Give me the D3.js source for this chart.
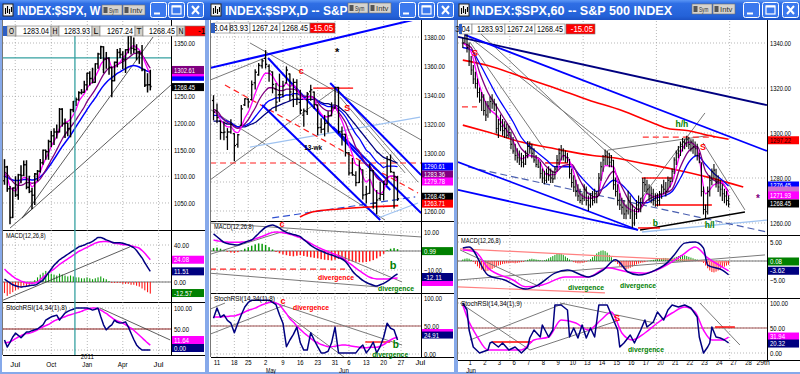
<!DOCTYPE html>
<html>
<head>
<meta charset="utf-8">
<title>SPX weekly / daily / 60 min</title>
<script src="https://cdn.jsdelivr.net/npm/d3@7"></script>
<style>
  body { margin: 0; background: #fff; }
  svg { display: block; font-family: "Liberation Sans", Arial, sans-serif; }
</style>
</head>
<body>
<svg id="chart" width="800" height="374"></svg>
<script>
// ---------- last bar (header strip) ----------
const lastBar = ["1283.04", "1283.93", "1267.24", "1268.45"];
const lastChange = "-15.05";

// ---------- weekly window (index 0 = wk of Jun 18 2010) ----------
const wkOpen = [1091.6,1117.5,1076.8,1022.6,1078.0,1064.9,1102.7,1101.6,1121.6,1079.3,1071.7,1064.6,1104.5,1109.6,1125.6,1148.7,1146.2,1165.2,1176.2,1183.1,1183.3,1225.9,1199.2,1199.7,1189.4,1224.7,1240.4,1243.9,1256.8,1257.6,1271.5,1293.2,1283.4,1276.3,1310.9,1329.2,1343.0,1319.9,1321.2,1304.3,1279.2,1313.8,1332.4,1328.2,1319.7,1337.4,1363.6,1340.2,1337.8,1333.3,1331.1,1300.2,1271.0,1271.5];
const wkHigh = [1131.2,1118.7,1081.0,1078.2,1099.1,1103.7,1120.0,1128.8,1129.2,1100.1,1077.6,1105.1,1110.9,1131.5,1148.9,1148.9,1167.7,1184.4,1189.4,1196.1,1227.1,1226.8,1207.4,1199.7,1225.6,1240.4,1246.7,1258.6,1262.6,1278.2,1293.2,1296.1,1302.7,1311.0,1330.8,1344.1,1343.0,1332.3,1322.3,1304.3,1314.2,1337.9,1339.5,1333.8,1337.5,1364.6,1370.6,1359.4,1346.8,1334.6,1345.2,1300.3,1292.5,1298.6];
const wkLow = [1085.0,1071.8,1010.9,1022.6,1062.2,1056.9,1088.0,1101.6,1076.6,1069.4,1039.7,1047.1,1091.5,1107.8,1122.8,1131.9,1131.9,1155.7,1159.7,1171.7,1183.3,1194.1,1173.0,1176.0,1174.0,1221.0,1232.9,1242.5,1254.5,1257.6,1262.2,1271.3,1275.1,1276.3,1302.6,1321.1,1294.3,1302.6,1291.5,1249.1,1279.2,1305.3,1322.9,1302.4,1294.7,1331.5,1329.2,1332.0,1318.5,1311.8,1297.9,1268.3,1258.1,1262.0];
const wkClose = [1117.5,1076.8,1022.6,1078.0,1064.9,1102.7,1101.6,1121.6,1079.3,1071.7,1064.6,1104.5,1109.6,1125.6,1148.7,1146.2,1165.2,1176.2,1183.1,1183.3,1225.9,1199.2,1199.7,1189.4,1224.7,1240.4,1243.9,1256.8,1257.6,1271.5,1293.2,1283.4,1276.3,1310.9,1329.2,1343.0,1319.9,1321.2,1304.3,1279.2,1313.8,1332.4,1328.2,1319.7,1337.4,1363.6,1340.2,1337.8,1333.3,1331.1,1300.2,1271.0,1271.5,1268.5];
const wkPink = [1105,1098,1080,1075,1072,1082,1092,1098,1097,1091,1080,1085,1092,1108,1122,1133,1144,1156,1166,1175,1190,1196,1200,1203,1207,1215,1225,1240,1248,1255,1265,1272,1277,1287,1297,1310,1316,1322,1318,1305,1304,1310,1314,1322,1327,1335,1342,1345,1341,1337,1328,1315,1302,1293];
const wkPurple = [1108,1104,1097,1090,1085,1083,1083,1085,1088,1088,1087,1088,1090,1095,1103,1112,1121,1131,1140,1150,1160,1170,1178,1185,1192,1199,1206,1214,1222,1230,1240,1248,1255,1263,1272,1282,1291,1298,1303,1304,1306,1309,1312,1315,1318,1322,1326,1330,1331,1331,1327,1320,1311,1302.61];
const wkBlue = [1100,1098,1095,1093,1092,1092,1093,1094,1094,1094,1093,1094,1096,1099,1104,1110,1117,1124,1132,1140,1148,1156,1163,1170,1177,1185,1193,1201,1209,1217,1225,1233,1240,1247,1255,1263,1270,1276,1281,1285,1289,1293,1296,1299,1302,1305,1307,1308,1307,1305,1302,1299,1297,1296];
const wkMacd = [3,1,-1,-3,-4,-5,-5.5,-5,-4.5,-4,-3.5,-3.3,-2,0,2,6,10,14,18,21,24,26,28,30,32,34,36,38,39,40,41.5,42.5,44,46,48,48,47,45.5,44.5,43,42.5,42.5,42.4,42,41,40,38.5,37,34,30,26,21,16,11.51];
const wkSignal = [14,11,8.5,6,4,2.5,1,0,-1,-1.2,-1.3,-1.2,0,2.5,5,7.5,10,12,14,16.5,19,21,23,25,27,29,31,33,34.5,36,37.5,39,40.5,42,43,43.5,43.8,43.8,43.5,43,42,41.5,41,40.5,40.2,40,39.3,38.5,37.5,36.5,34,31,27.5,24.08];
const wkHist = [-12,-15,-13,-11,-9,-8,-6,-4,-5,-4,-2,2,5,8,10,12,11,9,8,7,9,8,7,6,7,6,5,5,4,4,5,4,3,4,5,6,4,3,1,-1,-1,-1,-1,-2,-2,-2,-3,-3,-4,-5,-7,-9,-11,-12.57];
const wkStoch = [24,7,18,31,40,35,29,36,43,43,46,48,50,55,60,71,75,79,81,83,71,80,88,92,95,97,100,100,100,100,100,98,95,97,100,79,60,48,55,60,71,66,64,65,67,55,40,25,12,5,0,0,0,0];
const wkStochSig = [17,18,19,23,27,31,34,37,39,40,42,45,48,52,55,58,61,65,69,72,75,77,79,82,84,86,88,90,92,95,97,99,100,100,98,95,91,87,82,77,72,69,67,64,60,56,52,47,41,35,29,23,17,11.64];
const wkTickAt = [3.9, 17, 30.1, 43, 56];
const wkTickLabels = ["Jul", "Oct", "Jan", "Apr", "Jul"];
const wkTeal = [25.6, 1322];
const wkTrend = [[6.4,1021.7,54,1361.3],[6.4,1021.7,60.9,1273.1],[2,1002.9,10.4,1040.4]];
const wkMacdTrend = [[-0.5,-19.6,45.6,38]];
const wkStochTrend = [[34.7,100,60.2,24]];

// ---------- daily window (index 0 = Apr 11 2011, -1 = Apr 8) ----------
const dOpen = [1336.2,1329.0,1322.0,1314.0,1311.0,1314.5,1313.3,1306.0,1319.1,1333.2,1337.1,1336.8,1348.4,1353.9,1360.1,1365.2,1359.8,1355.9,1344.2,1340.2,1340.2,1348.3,1354.5,1339.4,1348.7,1334.8,1326.1,1328.5,1342.4,1342.0,1333.1,1317.7,1316.4,1320.6,1325.7,1331.1,1345.2,1314.6,1312.9,1300.3,1286.3,1284.6,1279.6,1288.3,1271.3,1272.2,1287.9,1265.5,1268.6,1271.5,1278.4,1295.5,1286.6,1283.04];
const dHigh = [1339.5,1333.8,1322.0,1321.4,1316.8,1322.9,1313.3,1312.7,1332.7,1337.5,1337.5,1349.6,1357.5,1361.7,1364.6,1370.6,1360.8,1355.9,1348.0,1354.4,1349.4,1359.4,1354.5,1351.1,1350.5,1343.3,1330.4,1341.8,1346.8,1342.0,1333.1,1323.7,1325.9,1328.5,1334.6,1345.2,1345.2,1318.0,1312.9,1300.3,1296.2,1287.0,1294.5,1288.3,1277.0,1292.5,1287.9,1274.1,1279.8,1280.4,1297.6,1298.6,1286.8,1283.93];
const dLow = [1322.9,1321.1,1309.5,1309.2,1302.4,1313.7,1294.7,1304.0,1319.1,1332.8,1331.5,1336.8,1344.2,1353.6,1358.7,1358.6,1349.5,1341.5,1329.2,1335.6,1338.6,1348.3,1336.4,1332.0,1333.4,1327.3,1318.5,1326.6,1336.4,1330.7,1312.6,1313.9,1311.8,1314.4,1325.7,1331.1,1313.7,1305.6,1297.9,1284.9,1284.7,1277.5,1279.6,1268.3,1265.6,1272.2,1261.9,1258.1,1267.4,1267.6,1278.4,1286.8,1262.0,1267.24];
const dClose = [1328.2,1324.5,1314.2,1314.4,1314.5,1319.7,1305.1,1312.6,1330.4,1337.4,1335.3,1347.2,1355.7,1360.5,1363.6,1361.2,1356.6,1347.3,1335.1,1340.2,1346.3,1357.2,1342.1,1348.7,1337.8,1329.5,1329.0,1340.7,1343.6,1333.3,1317.4,1316.3,1320.5,1325.7,1331.1,1345.2,1314.6,1312.9,1300.2,1286.2,1284.9,1279.6,1289.0,1271.0,1271.8,1287.9,1265.4,1267.6,1271.5,1278.4,1295.5,1287.1,1283.5,1268.45];
const dPink = [1329,1327,1323,1320,1318,1318,1315,1314,1318,1324,1328,1334,1341,1347,1352,1355,1355,1353,1349,1346,1346,1348,1346,1347,1344,1340,1337,1338,1339,1337,1331,1327,1325,1325,1327,1333,1327,1322,1315,1306,1299,1292,1291,1284,1280,1282,1276,1273,1272,1274,1282,1284,1284,1279.78];
const dPurple = [1330,1329,1326,1323,1321,1320,1318,1317,1318,1320,1323,1327,1331,1336,1340,1343,1345,1345,1344,1343,1343,1344,1344,1344,1343,1341,1339,1339,1339,1338,1335,1332,1330,1329,1329,1331,1328,1325,1321,1315,1310,1304,1301,1296,1292,1291,1287,1283,1281,1280,1283,1284,1284,1283.36];
const dBlue = [1326,1326,1325,1323,1322,1321,1319,1318,1318,1319,1320,1322,1325,1328,1331,1334,1336,1337,1338,1338,1339,1340,1340,1341,1341,1340,1339,1339,1339,1338,1336,1334,1333,1332,1332,1332,1330,1328,1325,1321,1317,1313,1310,1306,1302,1300,1297,1294,1292,1290,1291,1291,1291,1290.61];
const dNavy = [1322,1322,1322,1321,1320,1320,1319,1318,1318,1318,1319,1320,1321,1323,1325,1327,1329,1331,1332,1333,1334,1335,1336,1337,1337,1337,1337,1337,1337,1337,1336,1335,1334,1334,1333,1333,1332,1330,1328,1325,1322,1319,1316,1313,1310,1307,1304,1301,1299,1297,1296,1295,1294,1293];
const dRed200 = [[23.9,1255.9],[27.4,1259.3],[35.4,1261.4],[44.1,1262.8],[52.2,1263.71]];
const dMacd = [9,7.5,6,4.5,4,3.6,3.3,3.2,3.8,4.5,5.2,5.8,7.5,9.2,11,12.5,13.3,13.7,13,12,10.8,9.8,9.2,8.7,8.2,7.6,6,4.5,3,1.8,0.8,0,-0.8,-1.5,-2.1,-2.8,-3.5,-4.2,-5.5,-7.8,-10.5,-12.5,-14,-15.5,-16.6,-17.4,-18,-18.4,-17.8,-17,-16,-14.7,-13.2,-12.11];
const dSignal = [5.8,5.4,5.1,4.8,4.7,4.6,4.6,4.6,4.7,4.8,5.2,5.8,6.4,7,7.6,8.4,9.2,9.8,10,9.9,9.6,9.3,8.8,8.3,7.6,7,6,5,4,3,2,1.2,0.4,-0.4,-1.1,-1.8,-2.6,-3.6,-4.8,-6.2,-7.6,-9,-10.3,-11.6,-12.8,-13.8,-14.4,-14.7,-14.8,-14.8,-14.7,-14.5,-14.3,-14.2];
const dHist = [1.5,1.8,1.2,0.5,-0.4,-0.8,-1.0,-0.6,0.3,1.2,2.0,2.8,3.5,4.0,3.8,3.2,2.0,0.8,-0.5,-1.2,-1.8,-2.2,-2.6,-2.8,-2.5,-2.2,-2.6,-3.0,-3.3,-3.6,-3.9,-4.3,-4.6,-4.8,-5.0,-4.6,-4.2,-4.4,-4.8,-5.2,-5.5,-5.7,-5.9,-6.0,-5.8,-5.4,-4.8,-3.9,-2.8,-1.5,0.4,1.2,1.5,0.99];
const dStoch = [64,82,66,70,60,55,38,55,70,84,92,96,96,96,96,96,96,92,88,70,55,13,25,35,48,20,7,7,38,25,13,2,2,5,20,48,2,2,2,2,2,2,10,16,2,10,21,2,13,30,55,46,43,24.91];
const dStochSig = [66,66,66,67,67,68,68,70,72,75,78,80,82,85,88,90,92,93,91,88,80,72,63,57,50,44,38,33,28,23,20,17,15,13,13,14,15,16,16,15,14,13,12,11,11,12,12,12,14,17,21,25,28,30];
const dTickIdx = [0, 5, 9, 14, 19, 24, 29, 34, 38, 43, 48, 53];
const dTickLabels = ["11","18","25","2","9","16","23","31","6","13","20","27"];
const dMonthIdx = [14, 35, 57];
const dMonthLabels = ["May", "Jun", "Jul"];
// trend lines drawn on the daily chart: [i1, v1, i2, v2]
const dBlueLines = [[-2,1358.6,57.6,1392.4],[14.7,1365.5,49.9,1274.5],[13,1333.1,47,1253.8],[32.6,1348.3,58.8,1284.8],[33.4,1317.9,58.8,1258.6]];
const dGrayLines = [[9.5,1375.9,58.8,1309],[-1.7,1329.7,48.4,1253.8],[-2,1281.4,34.9,1345.5],[-2,1350.3,13.8,1365.5],[34.9,1343.4,57.9,1280],[35.4,1338.6,54.2,1286.2]];
const dLightBlueLines = [[9.5,1304.1,58.5,1324.8],[46.4,1255.2,57.9,1265.5]];
const dDashBlueLines = [[15.9,1255.2,57.1,1269.7]];
const dRedDashLines = [[-2,1293.1,58.8,1293.1],[2.3,1346.9,57.9,1272.4]];
const dRedLines = [[27.7,1344.8,39.2,1344.8]];
const dRedNotes = [[24.3,1357,"c"],[37.5,1331,"S"]];
const dBlackNotes = [[34.6,1369.7,"*"]];
const dWkNote = [[27.7,1304,"13-wk"]];
const dMacdGray = [[-1.7,14.7,58.8,7.4],[-2.6,-2.1,20.5,11.1],[-2.6,-11.6,46.4,-18.9],[34.9,-2.1,53.3,-16.3]];
const dMacdRedDash = [[-2,-9.5,36.9,-9.5]];
const dStochGray = [[-2.6,34,19.6,87.5],[15.9,92.9,53.3,16],[20.2,69.6,36.9,-7],[-2.6,78.6,2.3,91]];
const dStochRed = [[42.7,21.4,49.9,21.4]];

// ---------- 60 minute window (index 0 = first hour of Jun 1, 7 bars a day) ----------
const hHigh = [1342,1345.2,
 1345.2,1340,1334,1330,1327,1324,1320, 1318,1317,1314,1314,1316,1317,1315,
 1312.9,1306,1308,1306,1305,1304,1303, 1300.3,1298,1295,1293,1292,1291,1290,
 1292,1296.2,1296,1295,1293,1290,1288, 1287,1284,1283,1284,1285,1284,1283,
 1285,1290,1293,1294.5,1293,1292,1291, 1288.3,1284,1281,1279,1277,1275,1273,
 1277,1276,1272,1273,1274,1275,1274, 1282,1287,1290,1292.5,1292,1291,1290,
 1287.9,1280,1277,1273,1271,1270,1268, 1274.1,1272,1268,1266,1270,1272,1271,
 1279.8,1280,1279,1277,1276,1275,1273, 1273,1274,1277,1279,1278,1280.4,1280,
 1284,1289,1292,1294,1296,1297.6,1297, 1298.6,1298,1297,1297,1296,1295,1291,
 1286.8,1276,1268,1276,1281,1284,1286, 1283.9,1281,1279,1277,1275,1274,1272];
const hLow = [1338,1340,
 1336,1330,1326,1322,1320,1316,1313.7, 1310,1308,1305.6,1307,1309,1311,1310,
 1300,1298,1301,1299,1298,1297.9,1298, 1293,1291,1288,1287,1286,1285,1284.9,
 1286,1289,1291,1289,1287,1285,1284.7, 1280,1278,1277.5,1278,1279,1278,1278,
 1279.6,1283,1286,1288,1288,1287,1287, 1280,1276,1274,1272,1270,1269,1268.3,
 1270,1268,1265.6,1267,1268,1269,1269, 1272.2,1279,1283,1286,1286,1285,1285,
 1275,1272,1268,1266,1264,1262,1261.9, 1264,1262,1258.1,1259,1262,1265,1265,
 1268.6,1274,1273,1270,1269,1268,1267.4, 1267.6,1268,1271,1273,1272,1274,1276,
 1278.4,1282,1286,1289,1290,1292,1293, 1294,1293,1292,1291,1290,1288,1286.8,
 1272,1264,1262,1264,1272,1277,1280, 1276,1274,1272,1270,1269,1268,1267.24];
const hClose = [1340,1345,
 1338,1332,1328,1324,1322,1318,1314.6, 1316,1310,1308,1312,1314,1313,1312.9,
 1302,1304,1303,1301,1302,1299,1300.2, 1295,1292,1290,1289,1288,1287,1286.2,
 1290,1294,1293,1291,1288,1286,1284.9, 1282,1280,1279,1282,1281,1280,1279.6,
 1284,1288,1291,1292,1290,1289,1289, 1282,1278,1276,1274,1272,1270,1271,
 1275,1270,1268,1271,1270,1273,1271.8, 1280,1285,1288,1290,1289,1287,1287.9,
 1277,1274,1270,1268,1267,1264,1265.4, 1270,1265,1260,1264,1268,1269,1267.6,
 1278,1277,1275,1272,1273,1270,1271.5, 1270,1273,1276,1275,1274,1279,1278.4,
 1283,1288,1291,1292,1294,1296,1295.5, 1297,1295,1296,1294,1293,1290,1287.1,
 1274,1266,1265,1274,1279,1283,1283.5, 1278,1276,1275,1273,1272,1270,1268.45];
const hKnotIdx = [-2,2,6,10,14,18,22,26,30,34,38,42,46,50,54,58,62,66,70,74,78,82,86,90,94,98,102,106,110,114,118,122,125];
const hPink = [1340,1336,1321,1311.5,1308,1302.5,1296.5,1288.5,1290,1288.5,1281.5,1281.5,1290,1285.5,1273,1271,1271.5,1285.5,1285,1270,1266,1265,1273,1271.5,1273,1278,1291,1296,1293,1273,1277,1278,1271.93];
const hPurple = [1340,1338,1327,1318,1312,1306,1300,1293,1290,1289,1285,1282.5,1285.5,1286,1279,1273,1271.5,1278,1283,1276,1269,1266,1270,1272,1273,1275,1285,1292,1294,1283,1279,1277.5,1274];
const hBlue = [1338,1337,1331,1324,1317,1311,1305,1298,1294,1291,1288,1285,1285,1285,1281,1277,1274,1276,1279,1277,1273,1269,1269,1271,1272,1274,1280,1287,1290,1286,1282,1279,1276.45];
const hRedA = [[-2,1332.4],[10,1330],[26,1325],[42,1320],[58,1314.7],[74,1310],[90,1304],[96,1302],[106,1301],[115,1299],[125,1297.22]];
const hRedB = [[-2,1303.5],[10,1300.4],[26,1296],[42,1293],[60,1290],[70,1289],[83,1286.7],[98,1284],[115,1280.4],[132,1276]];
const hMacd = [[-2,3.4],[1,3.7],[10,-3.7],[18,-5],[28,-7.4],[34,-6.3],[42,-3.2],[48,-2.4],[58,-4.2],[65,-2.4],[71,0.3],[77,-2.9],[82,-3.7],[90,-2.4],[96,-0.3],[99,1.6],[104,4.7],[109,5],[113,3.4],[115,-1.1],[122,-2.4],[125,-3.62]];
const hSignal = [[-2,2.9],[4,2.4],[10,-1.8],[22,-5],[28,-6.8],[36,-6.3],[47,-4.2],[58,-4.2],[67,-1.8],[77,-2.9],[85,-3.2],[93,-1.8],[103,1.6],[109,3.7],[115,0.8],[122,-1.6],[125,-2.6]];
const hHist = [0.4,0.6,0.7,0.6,0.3,-0.2,
 -0.8,-1.4,-1.9,-2.3,-2.6,-2.7,-2.6,-2.4,-2.1,-1.8,-1.5,-1.2,-1.0,
 -0.8,-0.7,-0.6,-0.6,-0.5,-0.5,-0.6,-0.5,-0.4,-0.3,-0.2,
 0.1,0.3,0.5,0.6,0.5,0.4,0.3, 0.2,0.1,0.2,0.4,0.7,1.0,
 1.3,1.6,1.9,2.0,1.9,1.6,1.2,0.8,0.4,0.1,
 -0.3,-0.5,-0.6,-0.6,-0.5,-0.4,-0.2,0.1,0.5,1.0,
 1.5,2.0,2.4,2.7,2.8,2.6,2.2,1.6,1.0,0.4,
 -0.2,-0.8,-1.3,-1.7,-2.0,-2.1,-2.0,-1.8,-1.5,-1.2,-0.9,-0.7,
 -0.5,-0.4,-0.3,-0.1,0.1,0.2,0.3,0.4,
 0.5,0.6,0.7,0.8,0.8,0.7,0.6,0.7,0.9,1.1,1.3,1.5,1.6,1.5,1.3,1.1,0.9,0.7,0.5,0.4,0.2,0.0,
 -0.5,-1.2,-1.9,-2.5,-2.9,-3.0,-2.8,-2.5,-2.1,-1.8,-1.5,-1.2,-1.0];
const hStoch = [[-2,100],[0,86],[1,46],[3,12],[6,0],[10,6],[11,20],[12,22],[15,12],[17,20],[20,6],[23,12],[26,0],[29,12],[30,30],[32,46],[35,32],[36,56],[39,32],[41,46],[42,96],[45,96],[48,86],[49,32],[51,50],[53,30],[55,56],[57,30],[59,50],[61,32],[63,96],[67,96],[69,76],[72,46],[73,12],[75,20],[78,36],[80,20],[83,46],[85,66],[86,52],[89,62],[91,82],[94,66],[96,86],[98,96],[101,92],[104,96],[107,90],[110,72],[111,32],[113,0],[115,12],[116,20],[117,52],[119,32],[121,30],[123,26],[125,20.32]];
const hStochSig = [[-2,96],[0,72],[5,32],[10,6],[18,6],[26,6],[32,26],[39,32],[45,66],[52,60],[58,46],[64,66],[69,82],[74,40],[79,26],[85,40],[91,60],[98,80],[104,92],[109,82],[113,46],[117,26],[122,26],[125,31.94]];
const hDayLabels = ["1","2","3","6","7","8","9","10","13","14","15","16","17","20","21","22","23","24","27","28","29th"];
const hNavyLines = [[-4.3,1342.7,143.3,1312.4]];
const hBlueLines = [[-1,1343.6,143.3,1292],[-4.3,1287.1,81.7,1256.9],[-4.3,1274.7,81.7,1256.9]];
const hDashBlueLines = [[0.5,1284.9,143.3,1256]];
const hLightBlueLines = [[83.6,1256,143.3,1261.3]];
const hGrayLines = [[0.5,1343.1,83.6,1282.2],[6.2,1344.4,69.3,1289.3],[1.4,1340.4,37.3,1292.4],[67.4,1292.4,117,1299.1],[82.7,1270.2,113.7,1308.9],[112.8,1295.6,132.8,1265.8]];
const hBlackLines = [[82.7,1256.9,132.8,1264.9]];
const hRedDashLines = [[84,1298.2,118.5,1298.2],[-2.4,1311.6,4.8,1311.6]];
const hRedLines = [[83.6,1280,98,1280],[90,1268,117,1268],[81.7,1257.8,92.2,1257.8],[37.3,1286.7,48.3,1286.7]];
const hRedNotes = [[3.8,1335.6,"S"],[112.8,1293.8,"S"]];
const hGreenNotes = [[102.7,1304,"h/h"],[90,1260,"b"],[116,1259,"h/l"]];
const hStarNotes = [[139,1271,"*"]];
const hMacdRed = [[-3.3,3.2,124.7,-0.3],[-4.3,-6.8,65.9,-8.4]];
const hMacdGray = [[-3.3,2.9,34.9,-6.8],[-4.3,-5,142.4,1.6]];
const hMacdNotes = [[48.3,-6.8,"divergence"],[73.1,-6.3,"divergence"]];
const hStochGray = [[-3.3,100,30.1,6],[1.4,26,46.8,100],[44.4,100,89.8,60],[111.3,100,130.4,16],[30.1,6,73.1,66]];
const hStochRed = [[11.9,22,31.1,22],[118.5,52,128,52]];

// ================= drawing =================
const svg = d3.select("#chart");
const defs = svg.append("defs");
const grad = defs.append("linearGradient").attr("id", "titleGrad")
  .attr("x1", 0).attr("y1", 0).attr("x2", 0).attr("y2", 1);
grad.append("stop").attr("offset", "0%").attr("stop-color", "#5a95f5");
grad.append("stop").attr("offset", "18%").attr("stop-color", "#2f6ee4");
grad.append("stop").attr("offset", "80%").attr("stop-color", "#2462d8");
grad.append("stop").attr("offset", "100%").attr("stop-color", "#1c52c4");

function condense(sel, ppc) {
  sel.attr("textLength", function () { return this.textContent.length * ppc; })
    .attr("lengthAdjust", "spacingAndGlyphs");
}

let clipCount = 0;
function clipRect(x0, y0, x1, y1) {
  const id = "clip" + (clipCount++);
  defs.append("clipPath").attr("id", id).append("rect")
    .attr("x", x0).attr("y", y0).attr("width", x1 - x0).attr("height", y1 - y0);
  return `url(#${id})`;
}

function drawWindow(w) {
  const g = svg.append("g");
  g.append("rect").attr("x", w.x0).attr("y", 0).attr("width", w.x1 - w.x0).attr("height", 374).attr("fill", "#86a9ea");
  g.append("rect").attr("x", w.x0).attr("y", 0).attr("width", w.x1 - w.x0).attr("height", 20).attr("fill", "url(#titleGrad)");
  g.append("rect").attr("x", w.cx0).attr("y", 20).attr("width", w.cx1 - w.cx0).attr("height", 352).attr("fill", "#fff");

  const ic = g.append("g").attr("transform", `translate(${w.icon},4)`);
  ic.append("rect").attr("width", 10).attr("height", 12).attr("fill", "#f2f2f2").attr("stroke", "#222");
  ic.append("path").attr("d", "M2.5,10V4M4.5,9V2M6.5,10V5M8.5,8V3").attr("stroke", "#000").attr("stroke-width", 1.1);

  g.append("text").attr("x", w.titleX).attr("y", 15).text(w.title)
    .attr("fill", "#fff").attr("font-weight", "bold").attr("font-size", 12)
    .call(condense, w.tppc);

  [["Sym", w.sym, 20], ["Intv", w.sym + 21, 22]].forEach(([t, bx, bw]) => {
    g.append("rect").attr("x", bx).attr("y", w.symY).attr("width", bw).attr("height", 10)
      .attr("fill", "#d6d3ce").attr("stroke", "#6e6e6e").attr("stroke-width", 0.6);
    g.append("rect").attr("x", bx + 1.5).attr("y", w.symY + 2).attr("width", 4).attr("height", 6).attr("fill", "#555");
    g.append("text").attr("x", bx + 7).attr("y", w.symY + 8).text(t)
      .attr("font-size", 7).attr("fill", "#333").call(condense, 3.1);
  });

  w.btn.forEach((bx, k) => {
    g.append("rect").attr("x", bx + 0.5).attr("y", 2.5).attr("width", 16).attr("height", 15).attr("rx", 2)
      .attr("fill", "#3b79ee").attr("stroke", "#fff").attr("stroke-width", 1);
    const c = g.append("g").attr("stroke", "#fff").attr("fill", "none").attr("stroke-width", 2);
    if (k === 0) c.append("path").attr("d", `M${bx + 4},13.5H${bx + 10}`);
    if (k === 1) {
      c.append("rect").attr("x", bx + 4).attr("y", 6).attr("width", 9).attr("height", 8).attr("stroke-width", 1.2);
      c.append("path").attr("d", `M${bx + 4},6.5H${bx + 13}`);
    }
    if (k === 2) c.append("path").attr("d", `M${bx + 5},6L${bx + 12},14M${bx + 12},6L${bx + 5},14`);
  });
}

// header strip: cells show the tail (or head) of a value that does not fit
function infoBar(w) {
  const g = svg.append("g");
  const y0 = w.infoY, h = 10;
  w.cells.forEach(c => {
    g.append("rect").attr("x", c.x).attr("y", y0).attr("width", c.w).attr("height", h)
      .attr("fill", c.fill || "#fff").attr("stroke", "#777").attr("stroke-width", 0.6);
    let txt = c.text;
    if (c.tail) txt = txt.slice(-c.tail);
    if (c.head) txt = txt.slice(0, c.head);
    const ppc = txt.length === 1 ? 5 : 3.7;
    const len = txt.length * ppc;
    let tx;
    if (c.mid) tx = c.x + (c.w - len) / 2;
    else if (c.head) tx = c.tx;
    else tx = c.x + c.w - 2 - len;
    g.append("text").attr("x", tx).attr("y", y0 + 8).text(txt).attr("font-size", 8.5)
      .attr("fill", c.color || "#000").call(condense, ppc);
  });
  g.append("rect").attr("x", w.blue[0]).attr("y", y0).attr("width", w.blue[1]).attr("height", h).attr("fill", "#2d5fc4");
}

function subPanel(P, top, bottom, y, gridTicks, labelTicks, xGrid) {
  const g = svg.append("g");
  const inside = gridTicks.filter(t => y(t) > top + 2 && y(t) < bottom - 2);
  g.append("g").selectAll("line").data(inside).join("line")
    .attr("x1", P.left).attr("x2", P.right).attr("y1", d => y(d)).attr("y2", d => y(d))
    .attr("stroke", "#9a9a9a").attr("stroke-width", 0.7).attr("stroke-dasharray", "1,2");
  g.append("g").selectAll("line").data(xGrid).join("line")
    .attr("x1", d => d).attr("x2", d => d).attr("y1", top).attr("y2", bottom)
    .attr("stroke", "#9a9a9a").attr("stroke-width", 0.7).attr("stroke-dasharray", "1,2");
  const body = g.append("g").attr("clip-path", clipRect(P.left, top, P.right, bottom));
  const ax = g.append("g").attr("transform", `translate(${P.right},0)`)
    .call(d3.axisRight(y).tickValues(labelTicks).tickSize(0).tickPadding(3).tickFormat(d3.format(".2f")));
  ax.select(".domain").remove();
  ax.attr("font-family", null).attr("font-size", null);
  ax.selectAll("text").attr("font-size", 7.5).attr("fill", "#000").call(condense, 3.0);
  g.append("line").attr("x1", P.left).attr("x2", P.edge).attr("y1", bottom + 0.5).attr("y2", bottom + 0.5)
    .attr("stroke", "#000").attr("stroke-width", 1);
  return { g, body };
}

function ohlcBars(g, x, y, idx, o, h, l, c, width, tick) {
  const bars = g.append("g").attr("stroke", "#000").attr("stroke-width", width);
  bars.selectAll("line.hl").data(idx).join("line").attr("class", "hl")
    .attr("x1", i => x(i)).attr("x2", i => x(i))
    .attr("y1", (i, k) => y(h[k]) - 0.5).attr("y2", (i, k) => y(l[k]) + 0.5);
  if (o) {
    bars.selectAll("line.op").data(idx).join("line").attr("class", "op")
      .attr("x1", i => x(i) - tick).attr("x2", i => x(i))
      .attr("y1", (i, k) => y(o[k])).attr("y2", (i, k) => y(o[k]));
  }
  bars.selectAll("line.cl").data(idx).join("line").attr("class", "cl")
    .attr("x1", i => x(i)).attr("x2", i => x(i) + tick)
    .attr("y1", (i, k) => y(c[k])).attr("y2", (i, k) => y(c[k]));
}

function series(g, x, y, idx, vals, color, width, curve) {
  g.append("path").datum(idx.map((i, k) => [i, vals[k]]))
    .attr("fill", "none").attr("stroke", color).attr("stroke-width", width)
    .attr("stroke-linejoin", "round")
    .attr("d", d3.line().x(d => x(d[0])).y(d => y(d[1])).curve(curve || d3.curveLinear));
}

function knots(g, x, y, pts, color, width, curve) {
  series(g, x, y, pts.map(p => p[0]), pts.map(p => p[1]), color, width, curve);
}

function segs(g, x, y, list, color, width, dash) {
  g.append("g").selectAll("line").data(list).join("line")
    .attr("x1", d => x(d[0])).attr("y1", d => y(d[1])).attr("x2", d => x(d[2])).attr("y2", d => y(d[3]))
    .attr("stroke", color).attr("stroke-width", width).attr("stroke-dasharray", dash || null);
}

function hline(g, P, y, v, color, width) {
  g.append("line").attr("x1", P.left).attr("x2", P.right).attr("y1", y(v)).attr("y2", y(v))
    .attr("stroke", color).attr("stroke-width", width);
}

function hist(g, x, y, idx, vals, w) {
  g.append("g").selectAll("rect").data(idx).join("rect")
    .attr("x", i => x(i) - w / 2).attr("width", w)
    .attr("y", (i, k) => Math.min(y(vals[k]), y(0)))
    .attr("height", (i, k) => Math.abs(y(vals[k]) - y(0)))
    .attr("fill", (i, k) => vals[k] >= 0 ? "#089a08" : "#ff1a1a");
}

function notes(g, x, y, list, color, size, anchor, ppc, weight) {
  const t = g.append("g").selectAll("text").data(list).join("text")
    .attr("x", d => x(d[0])).attr("y", d => y(d[1]) + size * 0.35)
    .attr("text-anchor", anchor).attr("font-size", size).attr("font-weight", weight || "bold")
    .attr("fill", color).text(d => d[2]);
  if (ppc) t.call(condense, ppc);
}

// coloured last-value tag on the price axis; text omitted when the tag is mostly covered
function valueBox(P, yy, text, fill, color, h) {
  const hh = h || 8;
  svg.append("rect").attr("x", P.right + 1).attr("y", yy - hh / 2).attr("width", P.edge - P.right - 2).attr("height", hh)
    .attr("fill", fill);
  if (text) {
    svg.append("text").attr("x", P.right + 3).attr("y", yy + 2.6).text(text)
      .attr("font-size", 7).attr("fill", color || "#fff").call(condense, 3.0);
  }
}

function indicatorName(P, top, text) {
  svg.append("text").attr("x", P.left + 3).attr("y", top + 8).text(text)
    .attr("font-size", 7).attr("fill", "#000").call(condense, 3.05);
}

function frame(P, bottom) {
  svg.append("line").attr("x1", P.right + 0.5).attr("x2", P.right + 0.5).attr("y1", 20).attr("y2", bottom)
    .attr("stroke", "#000");
  svg.append("line").attr("x1", P.left - 0.5).attr("x2", P.left - 0.5).attr("y1", 20).attr("y2", bottom)
    .attr("stroke", "#777");
}

function dateLabel(x, y, text, anchor, size) {
  svg.append("text").attr("x", x).attr("y", y).text(text).attr("text-anchor", anchor || "middle")
    .attr("font-size", size || 8).attr("fill", "#000").call(condense, 3.3);
}

// ---------- windows ----------
const W1 = {x0: 0, x1: 207, cx0: 2, cx1: 205, icon: 3, titleX: 17, tppc: 6.4, sym: 102, symY: 5,
  title: "INDEX:$SPX, W", btn: [150, 168, 187], infoY: 26, blue: [3, 4],
  cells: [
    {x: 7, w: 9, text: "O", fill: "#d4d0c8", mid: true}, {x: 16, w: 35, text: lastBar[0]},
    {x: 51, w: 8, text: "H", fill: "#d4d0c8", mid: true}, {x: 59, w: 33, text: lastBar[1]},
    {x: 92, w: 8, text: "L", fill: "#d4d0c8", mid: true}, {x: 100, w: 35, text: lastBar[2]},
    {x: 135, w: 8, text: "T", fill: "#d4d0c8", mid: true}, {x: 143, w: 34, text: lastBar[3]},
    {x: 177, w: 8, text: "N", fill: "#d4d0c8", mid: true},
    {x: 185, w: 20, text: lastChange, fill: "#ff0000", color: "#000", head: 2, tx: 198}
  ]};
const W2 = {x0: 207, x1: 456, cx0: 209, cx1: 454, icon: 211, titleX: 225, tppc: 6.45, sym: 348, symY: 3,
  title: "INDEX:$SPX,D -- S&P", btn: [399, 418, 437], infoY: 23, blue: [211, 4],
  cells: [
    {x: 213, w: 17, text: lastBar[0], tail: 4}, {x: 230, w: 20, text: lastBar[1], tail: 5},
    {x: 250, w: 30, text: lastBar[2]}, {x: 280, w: 30, text: lastBar[3]},
    {x: 310, w: 25, text: lastChange, fill: "#ff0000", color: "#fff"}
  ]};
const W3 = {x0: 456, x1: 800, cx0: 458, cx1: 800, icon: 459, titleX: 472, tppc: 6.67, sym: 692, symY: 4,
  title: "INDEX:$SPX,60 -- S&P 500 INDEX", btn: [743, 762, 782], infoY: 24, blue: [459, 3],
  cells: [
    {x: 460, w: 12, text: lastBar[0], tail: 4}, {x: 472, w: 33, text: lastBar[1]},
    {x: 505, w: 30, text: lastBar[2]}, {x: 535, w: 30, text: lastBar[3]},
    {x: 566, w: 29, text: lastChange, fill: "#ff0000", color: "#fff"}
  ]};
[W1, W2, W3].forEach(drawWindow);

// ---------- weekly panel ----------
const P1 = {left: 3, right: 171, edge: 205, price: [21, 230], macd: [230, 302], stoch: [302, 355]};
const wkIdx = d3.range(0, 54);
const xW = d3.scaleLinear().domain([0, 53]).range([4.5, 150.3]);
const yWp = d3.scaleLinear().domain([1100, 1350]).range([176.3, 43]);
const yWm = d3.scaleLinear().domain([0, 40]).range([282, 245]);
const yWs = d3.scaleLinear().domain([0, 100]).range([350, 308]);
const wkGrid = wkTickAt.map(xW);

let s = subPanel(P1, ...P1.price, yWp, [1050, 1100, 1150, 1200, 1250, 1300, 1350], [1050, 1100, 1150, 1200, 1250, 1350], wkGrid);
s.body.append("line").attr("x1", P1.left).attr("x2", P1.right).attr("y1", yWp(wkTeal[1])).attr("y2", yWp(wkTeal[1]))
  .attr("stroke", "#35a0a0").attr("stroke-width", 1.3);
segs(s.body, xW, yWp, wkTrend, "#333", 0.8);
series(s.body, xW, yWp, wkIdx, wkBlue, "#0000ff", 1.5, d3.curveMonotoneX);
series(s.body, xW, yWp, wkIdx, wkPurple, "#800080", 1.3, d3.curveMonotoneX);
series(s.body, xW, yWp, wkIdx, wkPink, "#ff00ff", 1.3, d3.curveMonotoneX);
ohlcBars(s.body, xW, yWp, wkIdx, wkOpen, wkHigh, wkLow, wkClose, 1.5, 1.3);

s = subPanel(P1, ...P1.macd, yWm, [0, 20, 40], [0, 40], wkGrid);
hline(s.body, P1, yWm, 0, "#777", 1);
hist(s.body, xW, yWm, wkIdx, wkHist, 1.1);
segs(s.body, xW, yWm, wkMacdTrend, "#333", 0.8);
series(s.body, xW, yWm, wkIdx, wkSignal, "#ff00ff", 1.5, d3.curveMonotoneX);
series(s.body, xW, yWm, wkIdx, wkMacd, "#000080", 1.5, d3.curveMonotoneX);
indicatorName(P1, P1.macd[0], "MACD(12,26,8)");

s = subPanel(P1, ...P1.stoch, yWs, [0, 50, 100], [50, 100], wkGrid);
hline(s.body, P1, yWs, 50, "#8b1c1c", 1);
segs(s.body, xW, yWs, wkStochTrend, "#333", 0.8);
series(s.body, xW, yWs, wkIdx, wkStochSig, "#ff00ff", 1.5, d3.curveMonotoneX);
series(s.body, xW, yWs, wkIdx, wkStoch, "#000080", 1.5);
indicatorName(P1, P1.stoch[0], "StochRSI(14,34(1),8)");
svg.append("line").attr("x1", xW(wkTeal[0])).attr("x2", xW(wkTeal[0])).attr("y1", 35).attr("y2", P1.stoch[1])
  .attr("stroke", "#35a0a0").attr("stroke-width", 1.3);
frame(P1, P1.stoch[1]);
wkTickAt.forEach((t, k) => dateLabel(xW(t), 367, wkTickLabels[k]));
dateLabel(xW(wkTickAt[2]), 358.5, "2011", "middle", 7);

valueBox(P1, yWp(1296) + 5, null, "#0000ff");
valueBox(P1, yWp(1293) - 1, null, "#ff00ff");
valueBox(P1, yWp(1302.61) + 1.7, "1302.61", "#800080");
valueBox(P1, yWp(1268.45) + 0.6, "1268.45", "#000");
valueBox(P1, yWm(24.08), "24.08", "#ff00ff");
valueBox(P1, yWm(11.51), "11.51", "#000080");
valueBox(P1, yWm(-12.57) - 0.6, "-12.57", "#008000");
valueBox(P1, 340, "11.64", "#ff00ff");
valueBox(P1, 348, "0.00", "#000080");

// ---------- daily panel ----------
const P2 = {left: 211, right: 421, edge: 454, price: [21, 221], macd: [221, 293], stoch: [293, 357]};
const dIdx = d3.range(-1, 53);
const xD = d3.scaleLinear().domain([0, 53]).range([217, 401]);
const yDp = d3.scaleLinear().domain([1260, 1380]).range([211, 37]);
const yDm = d3.scaleLinear().domain([0, 10]).range([251, 232]);
const yDs = d3.scaleLinear().domain([0, 100]).range([354, 298]);
const dGrid = dTickIdx.map(xD);

s = subPanel(P2, ...P2.price, yDp, [1260, 1280, 1300, 1320, 1340, 1360, 1380], [1260, 1300, 1320, 1340, 1360, 1380], dGrid);
segs(s.body, xD, yDp, dGrayLines, "#7a7a7a", 1);
segs(s.body, xD, yDp, dLightBlueLines, "#9ec2f0", 1.2);
segs(s.body, xD, yDp, dDashBlueLines, "#3050d0", 1.2, "7,4");
segs(s.body, xD, yDp, dRedDashLines, "#ff2020", 1.2, "6,4");
segs(s.body, xD, yDp, dRedLines, "#ff0000", 1.2);
segs(s.body, xD, yDp, dBlueLines, "#0000ff", 2);
knots(s.body, xD, yDp, dRed200, "#ff0000", 1.6, d3.curveMonotoneX);
series(s.body, xD, yDp, dIdx, dNavy, "#000080", 1.3, d3.curveMonotoneX);
series(s.body, xD, yDp, dIdx, dBlue, "#0000ff", 1.3, d3.curveMonotoneX);
series(s.body, xD, yDp, dIdx, dPurple, "#800080", 1.3, d3.curveMonotoneX);
series(s.body, xD, yDp, dIdx, dPink, "#ff00ff", 1.3, d3.curveMonotoneX);
ohlcBars(s.body, xD, yDp, dIdx, dOpen, dHigh, dLow, dClose, 1.3, 1.6);
notes(s.g, xD, yDp, dRedNotes, "#ff0000", 9, "middle");
notes(s.g, xD, yDp, dBlackNotes, "#000", 11, "middle");
notes(s.g, xD, yDp, dWkNote, "#000", 7.5, "middle", 3.6);

s = subPanel(P2, ...P2.macd, yDm, [-10, 0, 10], [-10, 10], dGrid);
hline(s.body, P2, yDm, 0, "#777", 1);
hist(s.body, xD, yDm, dIdx, dHist, 1.5);
segs(s.body, xD, yDm, dMacdGray, "#7a7a7a", 1);
segs(s.body, xD, yDm, dMacdRedDash, "#ff2020", 1.2, "6,4");
series(s.body, xD, yDm, dIdx, dSignal, "#ff00ff", 1.5, d3.curveMonotoneX);
series(s.body, xD, yDm, dIdx, dMacd, "#000080", 1.5, d3.curveMonotoneX);
notes(s.g, xD, yDm, [[29.1, -13.7, "divergence"]], "#ff0000", 8, "start", 3.6);
notes(s.g, xD, yDm, [[46.4, -19.8, "divergence"]], "#008000", 8, "start", 3.6);
notes(s.g, xD, yDm, [[50.7, -7.4, "b"]], "#008000", 11, "middle");
notes(s.g, xD, yDm, [[18.7, 14.2, "c"]], "#ff0000", 9, "middle");
indicatorName(P2, P2.macd[0], "MACD(12,26,8)");

s = subPanel(P2, ...P2.stoch, yDs, [0, 50, 100], [0, 50, 100], dGrid);
hline(s.body, P2, yDs, 50, "#a05050", 1);
segs(s.body, xD, yDs, dStochGray, "#7a7a7a", 1);
segs(s.body, xD, yDs, dStochRed, "#ff0000", 1.3);
series(s.body, xD, yDs, dIdx, dStochSig, "#ff00ff", 1.5, d3.curveMonotoneX);
series(s.body, xD, yDs, dIdx, dStoch, "#000080", 1.5);
notes(s.g, xD, yDs, [[21.9, 84, "divergence"]], "#ff0000", 8, "start", 3.6);
notes(s.g, xD, yDs, [[44.7, -1, "divergence"]], "#008000", 8, "start", 3.6);
notes(s.g, xD, yDs, [[51.5, 17, "b"]], "#008000", 10, "middle");
notes(s.g, xD, yDs, [[19, 95, "c"]], "#ff0000", 9, "middle");
indicatorName(P2, P2.stoch[0], "StochRSI(14,34(1),8)");
frame(P2, P2.stoch[1]);
dTickIdx.forEach((t, k) => dateLabel(xD(t), 365, dTickLabels[k]));
dMonthIdx.forEach((t, k) => dateLabel(xD(t) + 0.5, t > 53 ? 365 : 373, dMonthLabels[k], "start", t > 53 ? 8 : 7));

valueBox(P2, yDp(1290.61), "1290.61", "#0000ff");
valueBox(P2, yDp(1283.36) - 2.5, "1283.36", "#800080");
valueBox(P2, yDp(1279.78) - 0.8, "1279.78", "#ff00ff");
valueBox(P2, yDp(1268.45) - 2, "1268.45", "#000");
valueBox(P2, yDp(1263.71) - 2, "1263.71", "#ff0000");
valueBox(P2, yDm(0.99) + 2, "0.99", "#008000");
valueBox(P2, yDm(-14.2) + 4, null, "#ff00ff");
valueBox(P2, yDm(-12.11) + 3, "-12.11", "#000080");
valueBox(P2, 332.5, null, "#ff00ff", null, 7);
valueBox(P2, yDs(24.91) - 5, "24.91", "#000080", null, 7);

// ---------- 60 minute panel ----------
const P3 = {left: 458, right: 767, edge: 800, price: [21, 235], macd: [235, 298], stoch: [298, 360]};
const hIdx = d3.range(-2, 126);
const xH = d3.scaleLinear().domain([0, 125]).range([467, 728.6]);
const yHp = d3.scaleLinear().domain([1260, 1340]).range([223, 43]);
const yHm = d3.scaleLinear().domain([0, 5]).range([261, 242]);
const yHs = d3.scaleLinear().domain([0, 100]).range([353, 303]);
const hGrid = [3, 8, 13, 18].map(d => xH(d * 7 - 0.5));

s = subPanel(P3, ...P3.price, yHp, [1260, 1280, 1300, 1320, 1340], [1260, 1280, 1300, 1320, 1340], hGrid);
segs(s.body, xH, yHp, hGrayLines, "#7a7a7a", 1);
segs(s.body, xH, yHp, hLightBlueLines, "#9ec2f0", 1.4);
segs(s.body, xH, yHp, hDashBlueLines, "#4a5fb0", 1.2, "7,4");
segs(s.body, xH, yHp, hNavyLines, "#000080", 1.8);
segs(s.body, xH, yHp, hBlueLines, "#0000ff", 1.8);
segs(s.body, xH, yHp, hBlackLines, "#000", 1.5);
segs(s.body, xH, yHp, hRedDashLines, "#ff3030", 1.3, "6,4");
segs(s.body, xH, yHp, hRedLines, "#ff0000", 1.4);
knots(s.body, xH, yHp, hRedA, "#ff0000", 1.6, d3.curveMonotoneX);
knots(s.body, xH, yHp, hRedB, "#ff0000", 1.6, d3.curveMonotoneX);
series(s.body, xH, yHp, hKnotIdx, hBlue, "#0000ff", 1.3, d3.curveMonotoneX);
series(s.body, xH, yHp, hKnotIdx, hPurple, "#800080", 1.3, d3.curveMonotoneX);
series(s.body, xH, yHp, hKnotIdx, hPink, "#ff00ff", 1.3, d3.curveMonotoneX);
ohlcBars(s.body, xH, yHp, hIdx, null, hHigh, hLow, hClose, 1.1, 1.2);
notes(s.g, xH, yHp, hRedNotes, "#ff0000", 9, "middle");
notes(s.g, xH, yHp, hGreenNotes, "#008000", 8.5, "middle");
notes(s.g, xH, yHp, hStarNotes, "#800080", 10, "middle");

s = subPanel(P3, ...P3.macd, yHm, [-5, 0, 5], [-5, 5], hGrid);
hline(s.body, P3, yHm, 0, "#777", 1);
hist(s.body, xH, yHm, hIdx, hHist, 1);
segs(s.body, xH, yHm, hMacdRed, "#ff8080", 1.2);
segs(s.body, xH, yHm, hMacdGray, "#7a7a7a", 1);
knots(s.body, xH, yHm, hSignal, "#ff00ff", 1.5, d3.curveMonotoneX);
knots(s.body, xH, yHm, hMacd, "#000080", 1.5, d3.curveMonotoneX);
notes(s.g, xH, yHm, hMacdNotes, "#008000", 8, "start", 3.6);
indicatorName(P3, P3.macd[0], "MACD(12,26,8)");

s = subPanel(P3, ...P3.stoch, yHs, [0, 50, 100], [0, 50, 100], hGrid);
hline(s.body, P3, yHs, 50, "#a05050", 1);
segs(s.body, xH, yHs, hStochGray, "#7a7a7a", 1);
segs(s.body, xH, yHs, hStochRed, "#ff0000", 1.4);
knots(s.body, xH, yHs, hStochSig, "#ff00ff", 1.5, d3.curveMonotoneX);
knots(s.body, xH, yHs, hStoch, "#000080", 1.5);
notes(s.g, xH, yHs, [[71.7, 70, "S"]], "#ff0000", 9, "middle");
notes(s.g, xH, yHs, [[76.9, 8, "divergence"]], "#008000", 8, "start", 3.6);
indicatorName(P3, P3.stoch[0], "StochRSI(14,34(1),9)");
frame(P3, P3.stoch[1]);
hDayLabels.forEach((t, d) => dateLabel(xH(d * 7 + 1.5), 365, t));
dateLabel(xH(1.5) - 4, 373, "Jun", "start", 7);

valueBox(P3, yHp(1297.22) + 1, "1297.22", "#ff0000", "#200");
valueBox(P3, yHp(1276.45) - 0.5, "1276.45", "#0000ff");
valueBox(P3, yHp(1274) - 1, null, "#d070d0");
valueBox(P3, yHp(1271.93) - 0.7, "1271.93", "#ff00ff");
valueBox(P3, yHp(1268.45) - 0.5, "1268.45", "#000");
valueBox(P3, yHm(0.08) + 0.8, "0.08", "#008000");
valueBox(P3, yHm(-3.62) - 4, "-3.62", "#000080");
valueBox(P3, yHs(31.94) - 0.5, "31.94", "#ff00ff");
valueBox(P3, yHs(20.32) + 0.7, "20.32", "#000080");

// header strips go over the plot tops
[W1, W2, W3].forEach(infoBar);
</script>
</body>
</html>
